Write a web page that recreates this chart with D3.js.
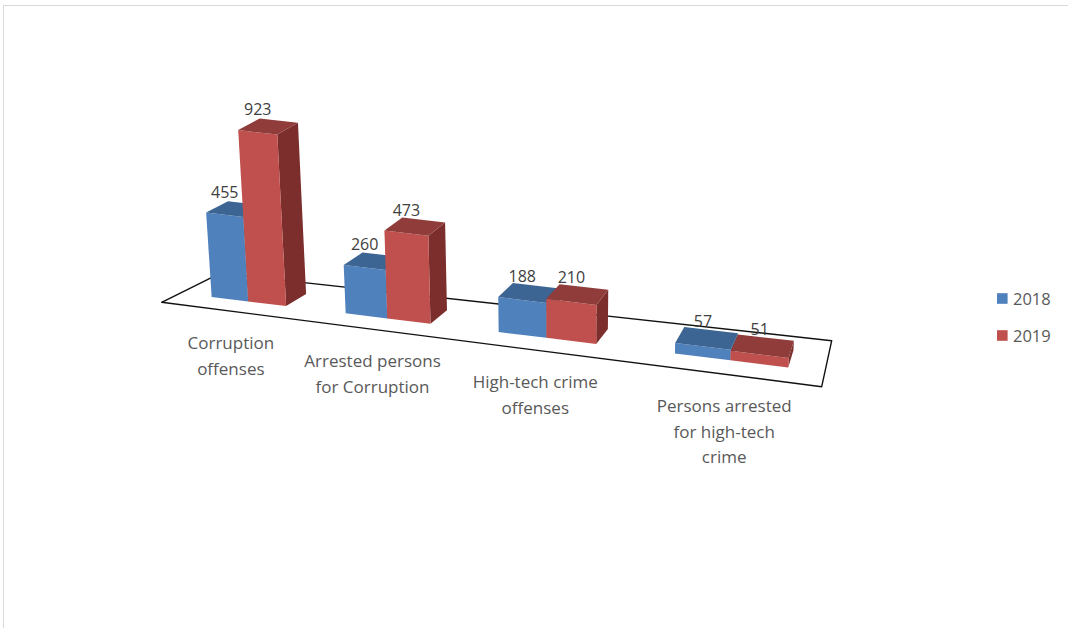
<!DOCTYPE html>
<html>
<head>
<meta charset="utf-8">
<script src="https://cdn.jsdelivr.net/npm/d3@7/dist/d3.min.js"></script>
<style>
  body { margin: 0; background: #fff; }
  svg { display: block; font-family: "Open Sans", "DejaVu Sans", sans-serif; }
</style>
</head>
<body>
<svg id="chart" width="1068" height="628"></svg>
<script>
// data
var categories = ['Corruption offenses', 'Arrested persons for Corruption', 'High-tech crime offenses', 'Persons arrested for high-tech crime'];
var categoryLines = [['Corruption', 'offenses'], ['Arrested persons', 'for Corruption'], ['High-tech crime', 'offenses'], ['Persons arrested', 'for high-tech', 'crime']];
var seriesNames = ['2018', '2019'];
var values2018 = [455, 260, 188, 57];
var values2019 = [923, 473, 210, 51];

var colors = {
  '2018': { front: '#4f81bd', top: '#3d6593', side: '#34587f' },
  '2019': { front: '#c0504d', top: '#8f3c3a', side: '#7b2e2c' }
};

var svg = d3.select('#chart');

// chart frame
svg.append('rect')
  .attr('x', 3.5).attr('y', 5.5)
  .attr('width', 1070).attr('height', 630)
  .attr('fill', 'none').attr('stroke', '#d9d9d9').attr('stroke-width', 1);

// floor corners on screen (front-left, front-right, back-right, back-left)
var FL = [161.7, 302.3], FR = [821.7, 386.7], BR = [831.7, 340.7], BL = [220, 273.4];
// vanishing point of the vertical edges
var VP = [560, 5640];

// maps unit square (u along categories, v into depth) onto the floor quad
function makeHomography(p00, p10, p11, p01) {
  var sx = p00[0] - p10[0] + p11[0] - p01[0];
  var sy = p00[1] - p10[1] + p11[1] - p01[1];
  var dx1 = p10[0] - p11[0], dx2 = p01[0] - p11[0];
  var dy1 = p10[1] - p11[1], dy2 = p01[1] - p11[1];
  var det = dx1 * dy2 - dx2 * dy1;
  var g = (sx * dy2 - dx2 * sy) / det;
  var h = (dx1 * sy - sx * dy1) / det;
  var a = p10[0] - p00[0] + g * p10[0], b = p01[0] - p00[0] + h * p01[0], c = p00[0];
  var d = p10[1] - p00[1] + g * p10[1], e = p01[1] - p00[1] + h * p01[1], f = p00[1];
  return function(u, v) {
    var w = g * u + h * v + 1;
    return [(a * u + b * v + c) / w, (d * u + e * v + f) / w];
  };
}
var floorAt = makeHomography(FL, FR, BR, BL);

// scales
var x0 = d3.scaleBand().domain(categories).range([0.01, 1.01]).paddingInner(3 / 7).paddingOuter(1.5 / 7);
var x1 = d3.scaleBand().domain(seriesNames).range([0, x0.bandwidth()]);
var hScale = d3.scaleLinear().domain([0, 1000]).range([0, 186]);
var depth = [0.30, 0.68];

function raise(p, value) {
  var dx = p[0] - VP[0], dy = p[1] - VP[1];
  var len = Math.sqrt(dx * dx + dy * dy);
  var hp = hScale(value);
  return [p[0] + dx / len * hp, p[1] + dy / len * hp];
}

var line = d3.line();

// floor
svg.append('path')
  .attr('d', line([FL, FR, BR, BL]) + 'Z')
  .attr('fill', '#fff')
  .attr('stroke', '#111')
  .attr('stroke-width', 1.4)
  .attr('stroke-linejoin', 'round');

// build bars
var bars = [];
categories.forEach(function(cat, i) {
  seriesNames.forEach(function(s) {
    var val = s === '2018' ? values2018[i] : values2019[i];
    bars.push({ cat: cat, series: s, value: val });
  });
});

var barG = svg.append('g').attr('class', 'bars');
bars.forEach(function(b) {
  var u0 = x0(b.cat) + x1(b.series);
  var u1 = u0 + x1.bandwidth();
  var f0 = floorAt(u0, depth[0]), f1 = floorAt(u1, depth[0]);
  var k1 = floorAt(u1, depth[1]), k0 = floorAt(u0, depth[1]);
  var f0t = raise(f0, b.value), f1t = raise(f1, b.value);
  var k1t = raise(k1, b.value), k0t = raise(k0, b.value);
  var c = colors[b.series];

  var g = barG.append('g');
  g.append('path').attr('d', line([f1, k1, k1t, f1t]) + 'Z').attr('fill', c.side);
  g.append('path').attr('d', line([f0, f1, f1t, f0t]) + 'Z').attr('fill', c.front);
  g.append('path').attr('d', line([f0t, f1t, k1t, k0t]) + 'Z').attr('fill', c.top);

  b.labelX = (f0t[0] + f1t[0]) / 2;
  b.labelY = (f0t[1] + f1t[1] + k0t[1] + k1t[1]) / 4 - 11;
});

// value labels
svg.append('g').selectAll('text')
  .data(bars)
  .enter().append('text')
  .attr('x', function(d) { return d.labelX; })
  .attr('y', function(d) { return d.labelY; })
  .attr('text-anchor', 'middle')
  .attr('fill', '#404040')
  .attr('font-size', 16)
  .text(function(d) { return d.value; });

// category labels under the front edge
var catG = svg.append('g');
categories.forEach(function(cat, i) {
  var p = floorAt(x0(cat) + x0.bandwidth() / 2, 0);
  var t = catG.append('text')
    .attr('text-anchor', 'middle')
    .attr('fill', '#595959')
    .attr('font-size', 17);
  categoryLines[i].forEach(function(l, j) {
    t.append('tspan')
      .attr('x', p[0])
      .attr('y', p[1] + 38 + j * 25.5)
      .text(l);
  });
});

// legend
var legend = svg.append('g').selectAll('g')
  .data(seriesNames)
  .enter().append('g')
  .attr('transform', function(d, i) { return 'translate(997,' + (298.5 + i * 37) + ')'; });
legend.append('rect')
  .attr('x', 0).attr('y', -5.3)
  .attr('width', 10.6).attr('height', 10.6)
  .attr('fill', function(d) { return colors[d].front; });
legend.append('text')
  .attr('x', 16).attr('y', 6)
  .attr('fill', '#595959')
  .attr('font-size', 16.5)
  .text(function(d) { return d; });
</script>
</body>
</html>
